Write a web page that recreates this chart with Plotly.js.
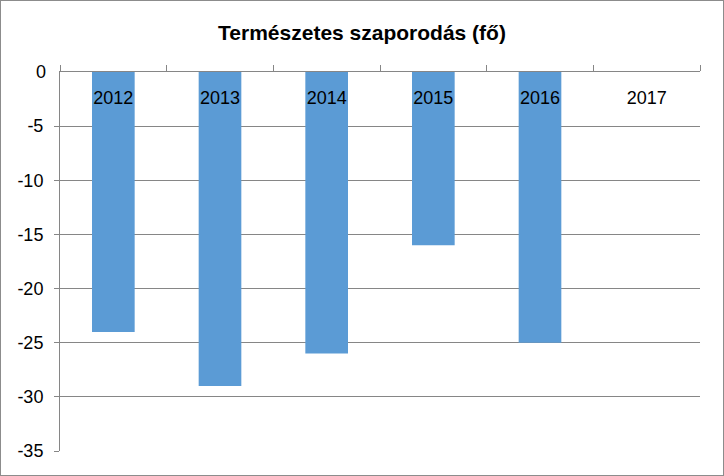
<!DOCTYPE html>
<html>
<head>
<meta charset="utf-8">
<script src="https://cdn.plot.ly/plotly-3.0.1.min.js"></script>
<style>
html,body{margin:0;padding:0;background:#fff;}
#wrap{width:722px;height:474px;border:1px solid #8c8c8c;}
#chart{width:722px;height:474px;}
</style>
</head>
<body>
<div id="wrap"><div id="chart"></div></div>
<script>
const years = ['2012','2013','2014','2015','2016','2017'];
const growth = [-24, -29, -26, -16, -25, null];
const yTicks = [0, -5, -10, -15, -20, -25, -30, -35];

const trace = {
  type: 'bar',
  x: years,
  y: growth,
  marker: {color: '#5b9bd5'},
  hoverinfo: 'x+y'
};

const tickFont = {family: 'Liberation Sans, Arial, sans-serif', size: 18, color: '#000'};

const layout = {
  width: 722,
  height: 474,
  margin: {l: 59, r: 23, t: 71, b: 24},
  paper_bgcolor: '#ffffff',
  plot_bgcolor: '#ffffff',
  bargap: 0.6,
  showlegend: false,
  font: {family: 'Liberation Sans, Arial, sans-serif', color: '#000'},
  title: {
    text: '<b>Természetes szaporodás (fő)</b>',
    font: {family: 'Liberation Sans, Arial, sans-serif', size: 21, color: '#000'},
    x: 0.5, xanchor: 'center',
    y: 1 - 32/474, yanchor: 'middle', yref: 'container'
  },
  xaxis: {
    type: 'category',
    side: 'top',
    ticklabelposition: 'inside',
    tickson: 'boundaries',
    ticks: 'outside',
    ticklen: 6,
    tickcolor: '#868686',
    showline: true,
    linecolor: '#868686',
    linewidth: 1,
    showgrid: false,
    zeroline: false,
    tickfont: tickFont,
    ticklabelstandoff: 20,
    fixedrange: true
  },
  yaxis: {
    range: [-35, 0],
    tickvals: yTicks,
    ticktext: yTicks.map(String),
    ticks: 'outside',
    ticklen: 5,
    tickcolor: '#868686',
    showline: true,
    linecolor: '#868686',
    showgrid: true,
    gridcolor: '#868686',
    gridwidth: 1,
    zeroline: false,
    tickfont: tickFont,
    ticklabelstandoff: 7,
    fixedrange: true
  },
  annotations: [{
    xref: 'paper', yref: 'y',
    x: 0, y: yTicks[0],
    text: String(yTicks[0]),
    showarrow: false,
    xanchor: 'right', yanchor: 'middle',
    xshift: -12,
    font: tickFont
  }]
};

Plotly.newPlot('chart', [trace], layout, {displayModeBar: false, staticPlot: true});
</script>
</body>
</html>
